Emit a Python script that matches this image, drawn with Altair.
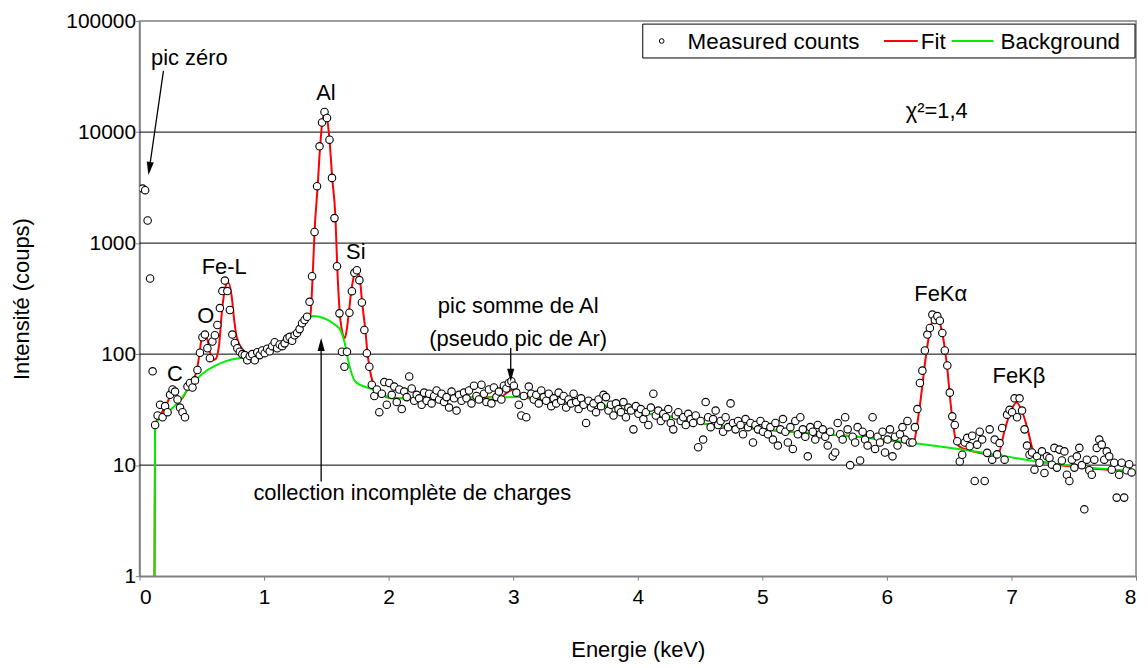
import altair as alt
import pandas as pd

FONT = "Liberation Sans"

# ---------------- measured spectrum (counts per 0.02 keV channel) ----------------
CHANNEL_WIDTH = 0.02
segment_starts = [0.025, 0.145, 0.885, 1.365, 1.945, 2.945, 6.205, 6.905, 7.225]

counts_zero_peak = [3100, 3000, 1600, 480, 70, 23]
counts_c_o_fel = [28, 35, 27, 34, 30, 43, 48, 46, 39, 33,
                  30, 27, 51, 55, 50, 58, 72, 103, 142, 150,
                  113, 92, 130, 148, 183, 260, 370, 460, 370, 250,
                  150, 126, 113, 105, 100, 98, 88]
counts_before_al = [96, 100, 88, 104, 98, 108, 102, 112, 106, 118,
                    128, 113, 122, 118, 125, 138, 143, 132, 148, 155,
                    168, 190, 203, 217]
counts_al_si = [296, 504, 1259, 3260, 7450, 12200, 15200, 13400, 8550, 3870,
                1680, 619, 233, 105, 77, 105, 236, 369, 540, 570,
                464, 292, 165, 102, 77, 53, 42, 48, 30]
counts_2_3kev = [44, 56, 35, 55, 43, 51, 37, 48, 32, 46,
                 41, 63, 49, 38, 43, 40, 35, 45, 38, 44,
                 36, 42, 47, 39, 44, 37, 41, 33, 46, 40,
                 31, 43, 38, 45, 40, 47, 36, 52, 42, 39,
                 53, 44, 37, 48, 36, 50, 41, 46, 39, 52]
counts_continuum = [49, 55, 57, 52, 45, 35, 28, 42, 27, 51,
                    44, 39, 43, 36, 47, 41, 38, 44, 34, 40,
                    36, 45, 38, 42, 33, 39, 36, 44, 37, 32,
                    40, 35, 24, 38, 33, 36, 30, 39, 34, 43,
                    41, 31, 35, 28, 36, 32, 30, 37, 27, 33,
                    31, 21, 34, 29, 32, 26, 30, 23, 33, 44,
                    28, 31, 25, 29, 27, 32, 24, 21, 28, 30,
                    25, 27, 23, 29, 26, 24, 28, 14.5, 25, 17,
                    37, 27, 22, 26, 31, 23, 25, 20, 27, 22,
                    36, 24, 21, 25, 23, 19, 26, 22, 24, 16,
                    23, 21, 25, 20, 23, 19, 22, 17, 24, 15,
                    21, 26, 20, 16, 22, 14, 25, 19, 27, 21,
                    18, 12, 22, 20, 17, 23, 19, 21, 18, 15,
                    20, 12, 13, 24, 19, 17, 27, 21, 10, 18,
                    16, 22, 11, 20, 17, 15, 19, 27, 14, 18,
                    16, 20, 13, 17, 21, 12, 18, 15, 19, 22,
                    17, 25, 16]
counts_fe_ka = [16, 22, 32, 55, 71, 108, 150, 172, 227, 203,
                220, 200, 155, 108, 79, 45, 27.5, 23, 16.4, 10.8,
                12.4, 16, 17.6, 14.8, 18.4, 7.2, 15.3, 20, 17, 7.2,
                12.9, 21, 11.2, 17, 12.5]
counts_fe_kb = [15.8, 21.6, 11.2, 28.5, 31.5, 30, 40, 27, 40, 31,
                21, 15, 12.4, 13, 9.1, 12]
counts_tail = [10.5, 13.3, 8.5, 12, 11.6, 10.1, 14.3, 9.5, 13.8, 11,
               13.3, 8.2, 7.2, 11.2, 9.5, 12, 14.3, 10, 4, 11.2,
               9, 8.2, 11.2, 14.3, 17, 15.3, 11.2, 13.3, 12, 9.1,
               10.5, 5.1, 8.2, 10.5, 5.1, 9, 10.2, 8.6]

segment_counts = [counts_zero_peak, counts_c_o_fel, counts_before_al, counts_al_si,
                  counts_2_3kev, counts_continuum, counts_fe_ka, counts_fe_kb, counts_tail]

rows = []
for start, vals in zip(segment_starts, segment_counts):
    for k, v in enumerate(vals):
        rows.append({"energy": round(start + k * CHANNEL_WIDTH, 4), "counts": v})
measured = pd.DataFrame(rows)

# ---------------- fit curve ----------------
fit_energy = [0.12, 0.125, 0.18, 0.23, 0.26, 0.29, 0.33, 0.38, 0.42, 0.46,
              0.48, 0.50, 0.53, 0.555, 0.58, 0.61, 0.64, 0.66, 0.68, 0.70,
              0.715, 0.74, 0.76, 0.78, 0.84, 0.90, 1.0, 1.1, 1.2, 1.3,
              1.37, 1.39, 1.405, 1.43, 1.45, 1.468, 1.488, 1.505, 1.525, 1.547,
              1.573, 1.587, 1.608, 1.632, 1.648, 1.665, 1.68, 1.70, 1.728, 1.747,
              1.77, 1.787, 1.813, 1.83, 1.845, 1.88, 1.92, 2.03, 2.9, 2.95,
              3.0, 3.05, 3.1, 3.44, 3.79, 3.97, 4.32, 4.5, 4.99, 5.57,
              5.92, 6.21, 6.26, 6.32, 6.36, 6.40, 6.44, 6.48, 6.52, 6.56,
              6.60, 6.89, 6.95, 6.99, 7.04, 7.09, 7.13, 7.17, 7.23, 8.0]
fit_counts = [1, 23, 30, 38, 46, 44, 39, 47, 56, 72,
              98, 140, 148, 121, 88, 90, 125, 233, 355, 432,
              440, 330, 202, 143, 106, 95, 104, 122, 145, 180,
              218, 504, 1259, 3260, 7450, 12500, 14800, 13500, 8550, 3870,
              1680, 619, 233, 150, 139, 170, 236, 369, 540, 570,
              464, 292, 165, 102, 77, 53, 46, 40, 41, 45,
              48, 44, 40.5, 37.5, 33.6, 30.5, 26.6, 24, 21, 18.8,
              17.3, 15.8, 31.5, 109, 190, 212, 165, 83, 29.5, 15.8,
              14.3, 12.4, 21.6, 29.5, 36.6, 29.5, 21, 13.8, 10.8, 8.8]
fit = pd.DataFrame({"energy": fit_energy, "counts": fit_counts})

# ---------------- background curve ----------------
bg_energy = [0.12, 0.125, 0.25, 0.33, 0.41, 0.5, 0.6, 0.7, 0.8, 0.9,
             1.0, 1.1, 1.2, 1.3, 1.37, 1.39, 1.573, 1.613, 1.648, 1.68,
             1.733, 1.84, 1.92, 2.03, 3.04, 3.44, 3.79, 3.97, 4.32, 4.5,
             4.99, 5.57, 5.92, 6.21, 6.88, 7.22, 8.0]
bg_counts = [1, 23, 31.5, 39, 52, 66, 78, 87, 92, 95,
             104, 122, 145, 180, 215, 220, 183, 165, 125, 83,
             56.5, 49.5, 46, 40, 41, 37.5, 33.6, 30.5, 26.6, 24,
             21, 18.8, 17.3, 15.8, 12.4, 10.7, 8.8]
background = pd.DataFrame({"energy": bg_energy, "counts": bg_counts})

# ---------------- gridlines ----------------
grid_values = [10, 100, 1000, 10000]

# ---------------- annotations ----------------
ann_text = ["pic zéro", "Al", "Si", "Fe-L", "O", "C", "pic somme de Al",
            "(pseudo pic de Ar)", "collection incomplète de charges",
            "FeKα", "FeKβ", "χ²=1,4"]
ann_energy = [0.40, 1.496, 1.736, 0.68, 0.532, 0.284, 3.04, 3.04, 2.19, 6.432, 7.06, 6.40]
ann_counts = [46500, 22600, 832, 611, 222, 65.8, 271, 137, 5.57, 347, 63.1, 15560]
annotations = pd.DataFrame({"label": ann_text, "energy": ann_energy, "counts": ann_counts})

arrow_start_energy = [0.192, 2.98, 1.458]
arrow_start_counts = [35600, 113.7, 7.13]
arrow_end_energy = [0.079, 2.98, 1.458]
arrow_end_counts = [4700, 64.5, 122]
arrow_angle = [8, 0, 180]
arrows = pd.DataFrame({"energy": arrow_start_energy, "counts": arrow_start_counts,
                       "energy2": arrow_end_energy, "counts2": arrow_end_counts,
                       "angle": arrow_angle})

legend_labels = ["Measured counts", "Fit", "Background"]

# ---------------- encodings ----------------
x_scale = alt.Scale(domain=[0, 8], nice=False, zero=False)
y_scale = alt.Scale(type="log", domain=[1, 100000], nice=False)
x_axis = alt.Axis(values=list(range(9)), format="d", title="Energie (keV)", grid=False,
                  labelFontSize=21, titleFontSize=22, labelPadding=6, tickSize=4,
                  titleY=74, titleBaseline="middle")
y_axis = alt.Axis(values=[1, 10, 100, 1000, 10000, 100000], format="d",
                  title="Intensité (coups)", grid=False, labelFontSize=21,
                  titleFontSize=22, labelPadding=0, tickSize=4, titleX=-118,
                  titleBaseline="middle", titleAlign="center", titleAngle=270)


def X(field="energy"):
    return alt.X(f"{field}:Q", scale=x_scale, axis=x_axis)


def Y(field="counts"):
    return alt.Y(f"{field}:Q", scale=y_scale, axis=y_axis)


grid = alt.Chart(pd.DataFrame({"counts": grid_values})).mark_rule(
    color="black", strokeWidth=1).encode(y=Y())

fit_line = alt.Chart(fit).mark_line(color="#FF0000", strokeWidth=2,
                                    interpolate="monotone", clip=True).encode(
    x=X(), y=Y(), order="energy:Q")

bg_line = alt.Chart(background).mark_line(color="#00EE00", strokeWidth=2,
                                          interpolate="monotone", clip=True).encode(
    x=X(), y=Y(), order="energy:Q")

points = alt.Chart(measured).mark_point(shape="circle", size=56, filled=True,
                                        fill="white", stroke="black", strokeWidth=1.1,
                                        opacity=1, clip=True).encode(x=X(), y=Y())

texts = alt.Chart(annotations).mark_text(font=FONT, fontSize=22, color="black",
                                         align="center", baseline="middle").encode(
    x=X(), y=Y(), text="label:N")

arrow_lines = alt.Chart(arrows).mark_rule(color="black", strokeWidth=1.3).encode(
    x=X(), y=Y(), x2="energy2:Q", y2="counts2:Q")

arrow_heads = alt.Chart(arrows).mark_point(
    shape="M-0.55,-1L0.55,-1L0,1Z", size=170, filled=True, color="black",
    opacity=1).encode(x=X("energy2"), y=Y("counts2"),
                      angle=alt.Angle("angle:Q", scale=None))

# ---------------- manual legend box ----------------
one = alt.Data(values=[{"a": 1}])
legend_box = alt.Chart(one).mark_rect(fill="white", stroke="black", strokeWidth=1).encode(
    x=alt.value(505), x2=alt.value(999), y=alt.value(3), y2=alt.value(37))
legend_dot = alt.Chart(one).mark_point(shape="circle", size=22, filled=True, fill="white",
                                       stroke="black", strokeWidth=1, opacity=1).encode(
    x=alt.value(524), y=alt.value(20))
legend_red = alt.Chart(one).mark_rule(color="#FF0000", strokeWidth=2).encode(
    x=alt.value(747), x2=alt.value(781), y=alt.value(20))
legend_green = alt.Chart(one).mark_rule(color="#00EE00", strokeWidth=2).encode(
    x=alt.value(815), x2=alt.value(857), y=alt.value(20))
legend_positions = [550, 784, 864]
legend_texts = [
    alt.Chart(pd.DataFrame({"label": [lab]})).mark_text(
        font=FONT, fontSize=22.5, align="left", baseline="middle", color="black").encode(
        x=alt.value(px), y=alt.value(21), text="label:N")
    for lab, px in zip(legend_labels, legend_positions)
]

chart = alt.layer(
    grid, fit_line, bg_line, points, texts, arrow_lines, arrow_heads,
    legend_box, legend_dot, legend_red, legend_green, *legend_texts
).properties(
    width=1000, height=557,
    autosize=alt.AutoSizeParams(type="none"),
    padding={"left": 132, "top": 12, "right": 4, "bottom": 85},
).configure(font=FONT).configure_view(
    stroke="#808080", strokeWidth=1.5
).configure_axis(
    domainColor="#808080", domainWidth=1.5, tickColor="#808080",
    labelColor="black", titleColor="black", labelFont=FONT, titleFont=FONT,
    titleFontWeight="normal"
)

chart.save("out.html", embed_options={"renderer": "svg", "actions": False})
